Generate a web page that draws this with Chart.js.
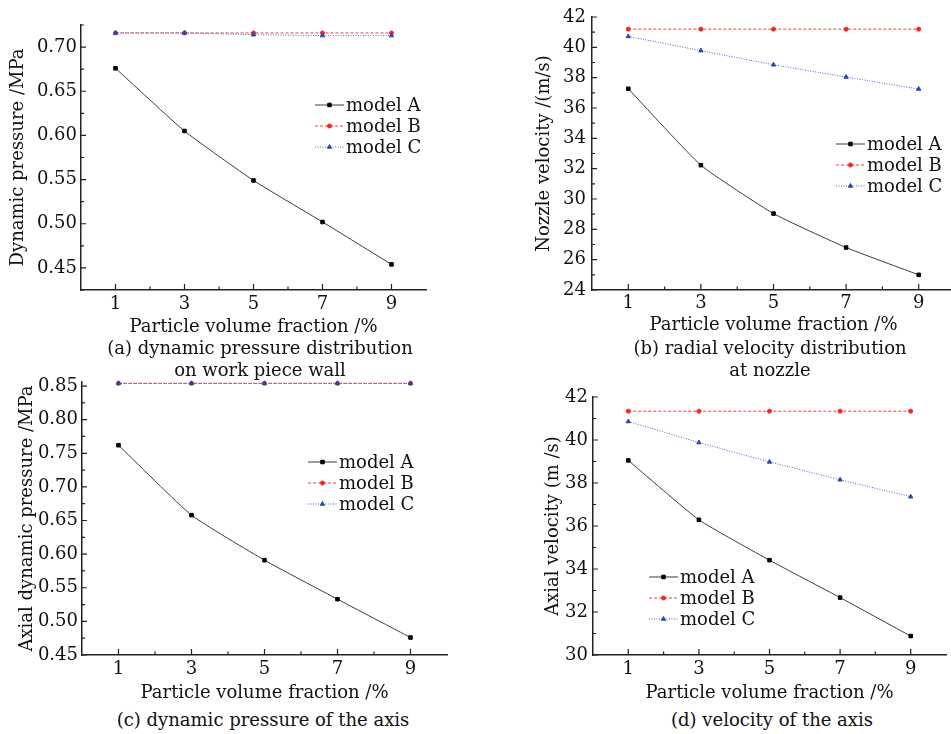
<!DOCTYPE html>
<html>
<head>
<meta charset="utf-8">
<script src="https://cdn.jsdelivr.net/npm/chart.js@4.4.1/dist/chart.umd.min.js"></script>
<style>
  html, body { margin: 0; padding: 0; background: #fff; overflow: hidden; }
  body { width: 951px; height: 734px; position: relative; }
  canvas { position: absolute; }
  .cap { position: absolute; width: 440px; text-align: center; font: 18px "DejaVu Serif"; line-height: 22px; color: #111; }
</style>
</head>
<body>
<canvas id="chartA" width="440" height="338" style="left:0;top:0"></canvas>
<canvas id="chartB" width="460" height="336" style="left:500px;top:0"></canvas>
<canvas id="chartC" width="460" height="344" style="left:0;top:360px"></canvas>
<canvas id="chartD" width="460" height="344" style="left:500px;top:360px"></canvas>

<div class="cap" style="left:40px;top:337px">(a) dynamic pressure distribution<br>on work piece wall</div>
<div class="cap" style="left:550px;top:337px">(b) radial velocity distribution<br>at nozzle</div>
<div class="cap" style="left:43px;top:709px">(c) dynamic pressure of the axis</div>
<div class="cap" style="left:552px;top:709px">(d) velocity of the axis</div>

<script>
// particle volume fraction, %
let fractions = [1, 3, 5, 7, 9];
let xMinor = [2, 4, 6, 8];
let modelNames = ["model A", "model B", "model C"];

// (a) dynamic pressure on work piece wall, MPa
let pressureA = [0.676, 0.605, 0.549, 0.502, 0.454];
let pressureB = [0.716, 0.716, 0.716, 0.716, 0.716];
let pressureC = [0.716, 0.716, 0.714, 0.713, 0.713];
let pressureTicks = [0.45, 0.50, 0.55, 0.60, 0.65, 0.70];

// (b) nozzle velocity, m/s
let nozzleA = [37.27, 32.23, 29.04, 26.8, 25.0];
let nozzleB = [41.2, 41.2, 41.2, 41.2, 41.2];
let nozzleC = [40.72, 39.78, 38.85, 38.04, 37.25];
let nozzleTicks = [24, 26, 28, 30, 32, 34, 36, 38, 40, 42];

// (c) axial dynamic pressure, MPa
let axialPressureA = [0.762, 0.658, 0.591, 0.533, 0.476];
let axialPressureB = [0.854, 0.854, 0.854, 0.854, 0.854];
let axialPressureC = [0.854, 0.854, 0.854, 0.854, 0.854];
let axialPressureTicks = [0.45, 0.50, 0.55, 0.60, 0.65, 0.70, 0.75, 0.80, 0.85];

// (d) axial velocity, m/s
let axialVelA = [39.05, 36.29, 34.41, 32.67, 30.88];
let axialVelB = [41.34, 41.34, 41.34, 41.34, 41.34];
let axialVelC = [40.86, 39.88, 38.98, 38.15, 37.36];
let axialVelTicks = [30, 32, 34, 36, 38, 40, 42];

Chart.defaults.font.family = "DejaVu Serif";
Chart.defaults.font.size = 18;
Chart.defaults.color = "#111";

const axisColor = "#222";

// inward major/minor tick marks, like the original plot
const innerTicks = {
    id: "innerTicks",
    afterDraw(chart, args, opts) {
        const {ctx, chartArea} = chart;
        const x = chart.scales.x, y = chart.scales.y;
        const yt = opts.yTicks;
        let yMinor = [];
        for (let i = 0; i < yt.length - 1; i++) yMinor.push((yt[i] + yt[i + 1]) / 2);
        const step = yt[1] - yt[0];
        if (yt[yt.length - 1] + step / 2 <= y.max + 1e-9) yMinor.push(yt[yt.length - 1] + step / 2);
        if (yt[0] - step / 2 >= y.min - 1e-9) yMinor.push(yt[0] - step / 2);

        ctx.save();
        ctx.strokeStyle = axisColor;
        ctx.lineWidth = 1.2;
        ctx.beginPath();
        fractions.forEach(v => {
            const px = x.getPixelForValue(v);
            ctx.moveTo(px, chartArea.bottom);
            ctx.lineTo(px, chartArea.bottom - 6);
        });
        xMinor.forEach(v => {
            const px = x.getPixelForValue(v);
            ctx.moveTo(px, chartArea.bottom);
            ctx.lineTo(px, chartArea.bottom - 3.5);
        });
        yt.forEach(v => {
            const py = y.getPixelForValue(v);
            ctx.moveTo(chartArea.left, py);
            ctx.lineTo(chartArea.left + 5, py);
        });
        yMinor.forEach(v => {
            const py = y.getPixelForValue(v);
            ctx.moveTo(chartArea.left, py);
            ctx.lineTo(chartArea.left + 3, py);
        });
        ctx.stroke();
        ctx.restore();
    }
};

// legend drawn inside the plot area
const innerLegend = {
    id: "innerLegend",
    afterDraw(chart, args, opts) {
        const ctx = chart.ctx;
        ctx.save();
        chart.data.datasets.forEach((ds, i) => {
            const yy = opts.y + i * 21;
            ctx.strokeStyle = ds.borderColor;
            ctx.lineWidth = ds.borderWidth;
            ctx.setLineDash(ds.borderDash || []);
            ctx.beginPath();
            ctx.moveTo(opts.x, yy);
            ctx.lineTo(opts.x + 29, yy);
            ctx.stroke();
            ctx.setLineDash([]);
            ctx.fillStyle = ds.pointBackgroundColor;
            ctx.strokeStyle = ds.pointBorderColor;
            ctx.lineWidth = 1;
            Chart.helpers.drawPoint(ctx, {pointStyle: ds.pointStyle, radius: ds.pointRadius, rotation: 0, borderWidth: 1}, opts.x + 14.5, yy);
            ctx.fillStyle = "#111";
            ctx.font = "18px 'DejaVu Serif'";
            ctx.textBaseline = "middle";
            ctx.fillText(ds.label, opts.x + 31, yy + 1);
        });
        ctx.restore();
    }
};

function series(vals) {
    return fractions.map((f, i) => ({x: f, y: vals[i]}));
}

function makeChart(id, p) {
    return new Chart(id, {
        type: "line",
        data: {
            datasets: [{
                label: modelNames[0],
                data: series(p.a),
                order: 2,
                borderColor: "#3a3a3a",
                borderWidth: 1,
                tension: 0.15,
                pointStyle: "rect",
                pointRadius: 2.5,
                pointBackgroundColor: "#000",
                pointBorderColor: "#000",
                clip: false
            }, {
                label: modelNames[1],
                data: series(p.b),
                order: 1,
                borderColor: "#f04040",
                borderWidth: 1,
                borderDash: [3, 2],
                pointStyle: "circle",
                pointRadius: 2,
                pointBackgroundColor: "#ff2020",
                pointBorderColor: "#ff2020",
                clip: false
            }, {
                label: modelNames[2],
                data: series(p.c),
                order: 0,
                borderColor: "#4a66d0",
                borderWidth: 1,
                borderDash: [1, 1.5],
                pointStyle: "triangle",
                pointRadius: 2.5,
                pointBackgroundColor: "#2848b8",
                pointBorderColor: "#2848b8",
                clip: false
            }]
        },
        options: {
            responsive: false,
            animation: false,
            layout: {padding: {top: p.padTop, right: p.padRight, left: 0, bottom: 0}},
            plugins: {
                legend: {display: false},
                tooltip: {enabled: false},
                innerTicks: {yTicks: p.ticks},
                innerLegend: p.legend
            },
            scales: {
                x: {
                    type: "linear",
                    min: 0,
                    max: 10,
                    afterBuildTicks: s => { s.ticks = fractions.map(v => ({value: v})); },
                    afterFit: s => { s.height = p.xHeight; },
                    grid: {display: false, drawTicks: false},
                    border: {display: true, color: axisColor, width: 1.5},
                    ticks: {padding: p.xPad, maxRotation: 0, autoSkip: false},
                    title: {display: true, text: "Particle volume fraction /%", padding: 0}
                },
                y: {
                    min: p.min,
                    max: p.max,
                    afterBuildTicks: s => { s.ticks = p.ticks.map(v => ({value: v})); },
                    afterFit: s => { s.width = p.yWidth; },
                    grid: {display: false, drawTicks: false},
                    border: {display: true, color: axisColor, width: 1.5},
                    ticks: {padding: p.yPad, autoSkip: false, callback: v => p.fmt(v)},
                    title: {display: true, text: p.yTitle, padding: {top: p.yTitlePad, bottom: 0}}
                }
            }
        },
        plugins: [innerTicks, innerLegend]
    });
}

makeChart("chartA", {
    a: pressureA, b: pressureB, c: pressureC, ticks: pressureTicks,
    min: 0.425, max: 0.725, fmt: v => v.toFixed(2),
    yTitle: "Dynamic pressure /MPa", yTitlePad: 8, yWidth: 81, yPad: 4,
    padTop: 25, padRight: 14, xHeight: 48, xPad: 4,
    legend: {x: 315, y: 105}
});

makeChart("chartB", {
    a: nozzleA, b: nozzleB, c: nozzleC, ticks: nozzleTicks,
    min: 24, max: 42, fmt: v => String(v),
    yTitle: "Nozzle velocity /(m/s)", yTitlePad: 34, yWidth: 92, yPad: 6,
    padTop: 17, padRight: 3, xHeight: 46, xPad: 3,
    legend: {x: 336, y: 144}
});

makeChart("chartC", {
    a: axialPressureA, b: axialPressureB, c: axialPressureC, ticks: axialPressureTicks,
    min: 0.45, max: 0.856, fmt: v => v.toFixed(2),
    yTitle: "Axial dynamic pressure /MPa", yTitlePad: 17, yWidth: 82, yPad: 4,
    padTop: 22, padRight: 13, xHeight: 49, xPad: 4,
    legend: {x: 308, y: 102}
});

makeChart("chartD", {
    a: axialVelA, b: axialVelB, c: axialVelC, ticks: axialVelTicks,
    min: 30, max: 42, fmt: v => String(v),
    yTitle: "Axial velocity (m /s)", yTitlePad: 43, yWidth: 93, yPad: 5,
    padTop: 37, padRight: 14, xHeight: 49, xPad: 4,
    legend: {x: 149, y: 217}
});
</script>
</body>
</html>
